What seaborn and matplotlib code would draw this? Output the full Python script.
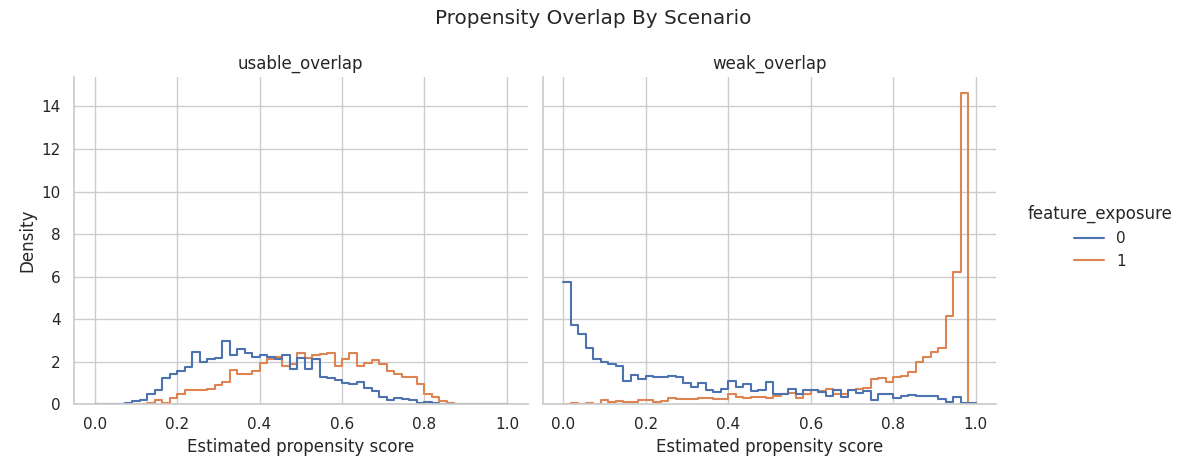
import numpy as np
import pandas as pd
import seaborn as sns
import matplotlib
matplotlib.use("Agg")
import matplotlib.pyplot as plt

NBINS = 55
scenarios = ["usable_overlap", "weak_overlap"]

usable_0 = [0,0,0,0,0.07,0.16,0.22,0.49,0.67,1.27,1.46,1.61,1.79,2.5,2.03,2.16,2.2,3.03,2.36,2.66,
            2.43,2.24,2.36,2.25,2.16,2.36,1.69,2.2,1.69,2.18,1.31,1.24,1.16,1.01,0.99,1.04,0.79,0.61,0.34,0.22,
            0.31,0.27,0.19,0.04,0.1,0.04,0.02,0,0,0,0,0,0,0,0]
usable_1 = [0,0,0,0,0,0,0,0.04,0.19,0.04,0.27,0.49,0.67,0.64,0.67,0.72,0.87,1.01,1.57,1.39,
            1.39,1.51,1.91,2.1,2.16,1.76,1.84,2.36,2.13,2.25,2.31,2.36,1.76,2.06,2.34,1.76,1.91,2.01,1.84,1.54,
            1.39,1.24,1.24,0.91,0.49,0.34,0.16,0.07,0,0,0,0,0,0,0]
weak_0 = [5.57,3.64,3.2,2.59,2.09,1.93,1.85,1.75,1.08,1.35,1.16,1.3,1.26,1.26,1.3,1.26,0.96,0.81,0.99,0.64,
          0.56,0.7,1.08,0.81,0.93,0.61,0.64,1.0,0.46,0.46,0.71,0.49,0.64,0.64,0.56,0.36,0.64,0.33,0.64,0.52,
          0.59,0.19,0.46,0.49,0.27,0.37,0.44,0.37,0.37,0.37,0.24,0.12,0.33,0.06,0.06]
weak_1 = [0,0.04,0.03,0.05,0.03,0.18,0.12,0.15,0.12,0.12,0.18,0.18,0.12,0.15,0.3,0.25,0.25,0.22,0.28,0.3,
          0.22,0.22,0.45,0.35,0.3,0.33,0.33,0.3,0.37,0.45,0.5,0.3,0.45,0.65,0.6,0.7,0.48,0.45,0.65,0.7,
          0.72,1.15,1.2,1.0,1.25,1.3,1.45,1.9,2.15,2.35,2.55,4.0,6.0,14.1,0.0]
weak_1 = weak_1[:50] + [2.35, 2.55, 4.0, 6.0, 14.1]
weak_1 = weak_1[:45] + [1.3, 1.45, 1.9, 2.15] + weak_1[50:]
weak_1 = (weak_1 + [0]*55)[:55]

centers = (np.arange(NBINS) + 0.5) / NBINS
rows = []
for scen, exp, vals in [("usable_overlap", 0, usable_0), ("usable_overlap", 1, usable_1),
                        ("weak_overlap", 0, weak_0), ("weak_overlap", 1, weak_1)]:
    for c, v in zip(centers, vals):
        rows.append({"scenario": scen, "feature_exposure": exp, "score": c, "w": v})
df = pd.DataFrame(rows)

sns.set_theme(style="whitegrid")
g = sns.displot(data=df, x="score", weights="w", hue="feature_exposure", col="scenario",
                col_order=scenarios, bins=NBINS, binrange=(0, 1), stat="density",
                common_norm=False, element="step", fill=False, height=4.3, aspect=1.1)
g.set_titles("{col_name}")
g.set_axis_labels("Estimated propensity score", "Density")
g.figure.set_size_inches(11.86, 4.74)
g.figure.suptitle("Propensity Overlap By Scenario")
g.figure.tight_layout()
g.figure.subplots_adjust(right=0.84)
g.figure.savefig("out.png", dpi=100)
